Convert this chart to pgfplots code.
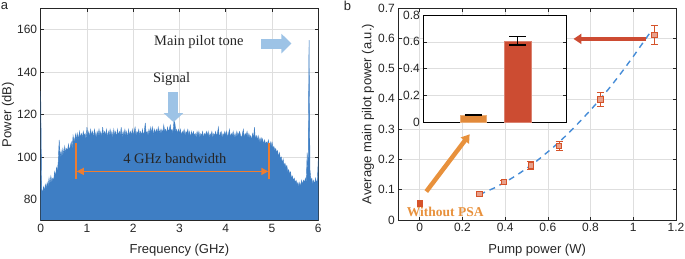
\documentclass[border=0pt]{standalone}
\usepackage{fontspec}
\setmainfont{Liberation Sans}
\newfontfamily\serif{Liberation Serif}
\usepackage{pgfplots}
\pgfplotsset{compat=1.18}
\usetikzlibrary{arrows.meta}
\definecolor{specblue}{RGB}{62,126,196}
\definecolor{lightblue}{RGB}{157,195,230}
\definecolor{bworange}{RGB}{237,125,49}
\definecolor{arroworange}{RGB}{232,145,60}
\definecolor{datared}{RGB}{213,83,42}
\definecolor{arrowred}{RGB}{205,75,50}
\definecolor{barorange}{RGB}{226,138,58}
\definecolor{barred}{RGB}{204,76,50}
\definecolor{fitblue}{RGB}{70,140,215}
\definecolor{gridgray}{RGB}{222,222,222}
\definecolor{axgray}{RGB}{38,38,38}
\pgfplotsset{
  mystyle/.style={
    scale only axis, anchor=south west,
    grid=major, grid style={gridgray, line width=0.5pt},
    axis line style={axgray, line width=0.6pt},
    tick style={axgray, line width=0.6pt},
    tick align=inside, tick pos=both, major tick length=3.5pt,
    tick label style={font=\fontsize{12}{14}\selectfont, text=axgray},
    label style={font=\fontsize{13}{15}\selectfont, text=axgray},
    /pgf/number format/assume math mode=true,
  }
}
\begin{document}
\begin{tikzpicture}
\path[use as bounding box] (0pt,0pt) rectangle (685pt,258pt);
% ---------------- panel a ----------------
\begin{axis}[mystyle, at={(40.7pt,37.3pt)}, width=277.6pt, height=212.4pt,
  xmin=0, xmax=6, ymin=70, ymax=170,
  xtick={0,1,2,3,4,5,6}, ytick={80,100,120,140,160},
  xlabel={Frequency (GHz)}, ylabel={Power (dB)},
  xlabel style={at={(axis description cs:0.5,-0.138)}, anchor=center},
  ylabel style={at={(axis description cs:-0.118,0.5)}, anchor=center},
]
\addplot[draw=specblue, line width=0.4pt, fill=specblue] coordinates {
(0.00,131) (0.02,85) (0.04,83) (0.06,86) (0.08,84)
(0.10,87) (0.12,85) (0.14,88) (0.16,86) (0.18,90)
(0.20,87) (0.22,91) (0.24,88) (0.26,90) (0.28,89)
(0.30,93) (0.32,91) (0.34,95) (0.36,93) (0.38,98)
(0.40,108) (0.42,99) (0.44,103) (0.46,100) (0.48,104)
(0.50,101) (0.52,105) (0.54,102) (0.56,104) (0.58,103)
(0.60,106) (0.62,103) (0.64,105) (0.66,107) (0.68,104)
(0.70,110) (0.72,107) (0.74,109) (0.76,111) (0.78,108)
(0.80,111) (0.82,108) (0.84,112) (0.86,109) (0.88,111)
(0.90,109) (0.92,112) (0.94,110) (0.96,111) (0.98,108)
(1.00,114) (1.02,110) (1.04,112) (1.06,109) (1.08,113)
(1.10,110) (1.12,112) (1.14,109) (1.16,113) (1.18,111)
(1.20,109) (1.22,112) (1.24,110) (1.26,113) (1.28,110)
(1.30,112) (1.32,109) (1.34,114) (1.36,110) (1.38,112)
(1.40,110) (1.42,113) (1.44,109) (1.46,112) (1.48,110)
(1.50,113) (1.52,110) (1.54,112) (1.56,109) (1.58,113)
(1.60,110) (1.62,112) (1.64,109) (1.66,113) (1.68,110)
(1.70,112) (1.72,110) (1.74,114) (1.76,109) (1.78,112)
(1.80,110) (1.82,113) (1.84,110) (1.86,112) (1.88,109)
(1.90,113) (1.92,110) (1.94,112) (1.96,110) (1.98,113)
(2.00,110) (2.02,112) (2.04,114) (2.06,110) (2.08,112)
(2.10,111) (2.12,113) (2.14,110) (2.16,112) (2.18,110)
(2.20,113) (2.22,110) (2.24,112) (2.26,116) (2.28,111)
(2.30,112) (2.32,110) (2.34,113) (2.36,111) (2.38,114)
(2.40,111) (2.42,114) (2.44,110) (2.46,113) (2.48,111)
(2.50,113) (2.52,111) (2.54,114) (2.56,111) (2.58,113)
(2.60,111) (2.62,113) (2.64,111) (2.66,115) (2.68,112)
(2.70,113) (2.72,111) (2.74,114) (2.76,112) (2.78,113)
(2.80,115) (2.82,112) (2.84,113) (2.86,111) (2.88,117)
(2.90,116) (2.92,112) (2.94,113) (2.96,111) (2.98,113)
(3.00,111) (3.02,113) (3.04,110) (3.06,112) (3.08,111)
(3.10,113) (3.12,110) (3.14,112) (3.16,111) (3.18,113)
(3.20,110) (3.22,112) (3.24,109) (3.26,112) (3.28,110)
(3.30,112) (3.32,110) (3.34,111) (3.36,109) (3.38,112)
(3.40,110) (3.42,112) (3.44,109) (3.46,111) (3.48,110)
(3.50,112) (3.52,109) (3.54,111) (3.56,110) (3.58,112)
(3.60,110) (3.62,112) (3.64,109) (3.66,111) (3.68,110)
(3.70,112) (3.72,109) (3.74,111) (3.76,110) (3.78,112)
(3.80,110) (3.82,111) (3.84,114) (3.86,109) (3.88,111)
(3.90,112) (3.92,109) (3.94,111) (3.96,110) (3.98,112)
(4.00,110) (4.02,112) (4.04,109) (4.06,111) (4.08,113)
(4.10,109) (4.12,111) (4.14,110) (4.16,112) (4.18,109)
(4.20,111) (4.22,109) (4.24,112) (4.26,110) (4.28,111)
(4.30,112) (4.32,110) (4.34,109) (4.36,111) (4.38,113)
(4.40,109) (4.42,111) (4.44,110) (4.46,112) (4.48,109)
(4.50,111) (4.52,109) (4.54,110) (4.56,108) (4.58,111)
(4.60,109) (4.62,114) (4.64,108) (4.66,110) (4.68,108)
(4.70,110) (4.72,107) (4.74,109) (4.76,107) (4.78,109)
(4.80,108) (4.82,106) (4.84,108) (4.86,106) (4.88,107)
(4.90,106) (4.92,108) (4.94,105) (4.96,107) (4.98,105)
(5.00,107) (5.02,104) (5.04,105) (5.06,103) (5.08,104)
(5.10,102) (5.12,103) (5.14,100) (5.16,102) (5.18,99)
(5.20,100) (5.22,97) (5.24,99) (5.26,96) (5.28,97)
(5.30,95) (5.32,96) (5.34,93) (5.36,94) (5.38,92)
(5.40,93) (5.42,90) (5.44,91) (5.46,89) (5.48,90)
(5.50,88) (5.52,89) (5.54,87) (5.56,88) (5.58,86)
(5.60,88) (5.62,86) (5.64,89) (5.66,87) (5.68,89)
(5.70,88) (5.72,90) (5.74,88) (5.76,102) (5.78,91)
(5.80,155) (5.82,94) (5.84,89) (5.86,90) (5.88,87)
(5.90,89) (5.92,87) (5.94,90) (5.96,88) (5.98,89)
(6.00,99)
} \closedcycle;
\draw[axgray, line width=0.6pt] (rel axis cs:0,0) rectangle (rel axis cs:1,1);
% annotations
\draw[lightblue, line width=10pt, -{Triangle[width=19pt,length=9pt]}] (axis cs:2.87,130.5) -- (axis cs:2.87,116.4);
\draw[lightblue, line width=10pt, -{Triangle[width=19pt,length=10pt]}] (axis cs:4.77,153.4) -- (axis cs:5.42,153.4);
\node[font=\serif\fontsize{14.5}{16}\selectfont, text=axgray] at (axis cs:2.83,136.5) {Signal};
\node[font=\serif\fontsize{14.5}{16}\selectfont, text=axgray] at (axis cs:3.42,154) {Main pilot tone};
\node[font=\serif\fontsize{14.5}{16}\selectfont, text=axgray] at (axis cs:2.9,99.5) {4 GHz bandwidth};
\draw[bworange, line width=1.5pt, {Triangle[width=7pt,length=7pt]}-{Triangle[width=7pt,length=7pt]}] (axis cs:0.78,93.2) -- (axis cs:4.92,93.2);
\draw[bworange, line width=2pt] (axis cs:0.76,89.4) -- (axis cs:0.76,106.7);
\draw[bworange, line width=2pt] (axis cs:4.94,89.4) -- (axis cs:4.94,106.7);
\end{axis}
% ---------------- panel b ----------------
\begin{axis}[mystyle, at={(398.3pt,38pt)}, width=277.7pt, height=212pt,
  xmin=-0.1, xmax=1.2, ymin=0, ymax=0.7,
  xtick={0,0.2,0.4,0.6,0.8,1,1.2}, ytick={0,0.1,0.2,0.3,0.4,0.5,0.6,0.7},
  xticklabels={0,0.2,0.4,0.6,0.8,1,1.2},
  yticklabels={0,0.1,0.2,0.3,0.4,0.5,0.6,0.7},
  xlabel={Pump power (W)}, ylabel={Average main pilot power (a.u.)},
  xlabel style={at={(axis description cs:0.5,-0.14)}, anchor=center},
  ylabel style={at={(axis description cs:-0.109,0.5)}, anchor=center},
]
\addplot[fitblue, line width=1.4pt, dash pattern=on 6pt off 5pt] coordinates {
(0.28,0.084) (0.35,0.106) (0.40,0.125) (0.45,0.146) (0.50,0.170)
(0.55,0.196) (0.60,0.225) (0.65,0.255) (0.70,0.289) (0.75,0.325)
(0.80,0.363) (0.85,0.403) (0.90,0.446) (0.95,0.492) (1.00,0.540)
(1.05,0.590) (1.08,0.620)
};
\addplot[only marks, mark=square*, mark size=2.6pt,
  mark options={draw=datared, fill=datared!55!white, line width=0.8pt},
  error bars/.cd, y dir=both, y explicit,
  error bar style={datared, line width=0.9pt},
  error mark options={rotate=90, datared, mark size=3.5pt, line width=0.9pt}]
coordinates {
(0.28,0.085) +- (0,0.004)
(0.393,0.125) +- (0,0.006)
(0.519,0.180) +- (0,0.013)
(0.653,0.245) +- (0,0.015)
(0.846,0.398) +- (0,0.023)
(1.099,0.612) +- (0,0.031)
};
\addplot[only marks, mark=square*, mark size=2.8pt, mark options={draw=datared, fill=datared}] coordinates {(0,0.056)};
\node[font=\serif\bfseries\fontsize{13.5}{15}\selectfont, text=arroworange, anchor=center] at (axis cs:0.12,0.027) {Without PSA};
\draw[arroworange, line width=4.5pt, -{Triangle[width=10pt,length=8pt]}] (axis cs:0.031,0.094) -- (axis cs:0.234,0.283);
\draw[arrowred, line width=4pt, -{Triangle[width=10pt,length=8pt]}] (axis cs:1.06,0.598) -- (axis cs:0.72,0.598);
\end{axis}
% ---------------- inset ----------------
\begin{axis}[mystyle, at={(423.3pt,135.7pt)}, width=143.4pt, height=107.3pt,
  axis background/.style={fill=white},
  axis line style={black, line width=0.7pt},
  grid=none, ymajorgrids,
  xmin=-0.125, xmax=3.11, ymin=0, ymax=0.8,
  xtick=\empty, ytick={0,0.2,0.4,0.6,0.8},
  yticklabels={0,0.2,0.4,0.6,0.8},
]
\addplot[ybar, bar width=0.6, bar shift=0pt, fill=barorange, draw=barorange!70!white,
  error bars/.cd, y dir=both, y explicit,
  error bar style={black, line width=1.2pt},
  error mark options={rotate=90, black, mark size=8.5pt, line width=1.2pt}]
coordinates {(1,0.055) +- (0,0.002)};
\addplot[ybar, bar width=0.6, bar shift=0pt, fill=barred, draw=barred!70!white,
  error bars/.cd, y dir=both, y explicit,
  error bar style={black, line width=1.2pt},
  error mark options={rotate=90, black, mark size=8.5pt, line width=1.2pt}]
coordinates {(2,0.607) +- (0,0.031)};
\end{axis}
\node[font=\fontsize{13}{15}\selectfont, text=axgray] at (4.5pt,252pt) {a};
\node[font=\fontsize{13}{15}\selectfont, text=axgray] at (347.5pt,252pt) {b};
\end{tikzpicture}
\end{document}
